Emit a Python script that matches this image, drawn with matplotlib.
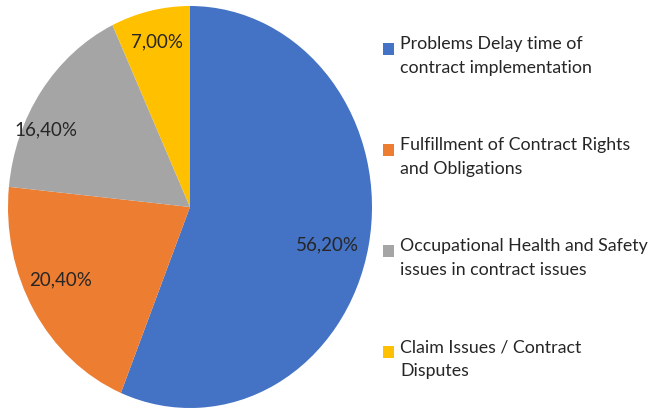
import matplotlib.pyplot as plt
import matplotlib.patches as mpatches
from matplotlib.legend_handler import HandlerPatch
import numpy as np

# -------------------------------------------------
# DATA
# -------------------------------------------------
categories = [
    "Problems Delay time of\ncontract implementation",
    "Fulfillment of Contract Rights\nand Obligations",
    "Occupational Health and Safety\nissues in contract issues",
    "Claim Issues / Contract\nDisputes",
]
shares = [56.20, 20.40, 16.40, 7.00]
pct_labels = ["56,20%", "20,40%", "16,40%", "7,00%"]
colors = ["#4472C4", "#ED7D31", "#A5A5A5", "#FFC000"]

# label placement (radius, angle nudge in degrees), "best fit" style
label_radius = [0.78, 0.80, 0.88, 0.84]
label_nudge = [-3, -4, 9.6, 0]

plt.rcParams["font.family"] = ["Lato", "DejaVu Sans"]

W, H = 654, 409
fig = plt.figure(figsize=(W / 100, H / 100), dpi=100)

# pie area is slightly taller than wide in the reference
ax = fig.add_axes([8 / W, 1 / H, 364 / W, 402 / H])
wedges, _ = ax.pie(shares, colors=colors, startangle=90, counterclock=False,
                   radius=1.0, wedgeprops=dict(linewidth=0))
ax.set_aspect("auto")
ax.set_xlim(-1, 1)
ax.set_ylim(-1, 1)

for w, lab, r, d in zip(wedges, pct_labels, label_radius, label_nudge):
    ang = np.deg2rad((w.theta1 + w.theta2) / 2 + d)
    ax.text(r * np.cos(ang), r * np.sin(ang), lab, ha="center", va="center",
            fontsize=13.5, color="#262626")


# square legend marker lifted to the first line of a two-line label
def top_square(legend, orig_handle, xdescent, ydescent, width, height, fontsize):
    return mpatches.Rectangle((-xdescent, -ydescent + 0.42 * fontsize), width, height)


handles = [mpatches.Patch(facecolor=c, edgecolor="none") for c in colors]
leg = fig.legend(handles, categories, loc="upper left",
                 bbox_to_anchor=(376 / W, 1 - 29 / H), frameon=False,
                 fontsize=12.8, handlelength=0.62, handleheight=0.62,
                 handletextpad=0.35, labelspacing=3.45, borderaxespad=0,
                 handler_map={mpatches.Patch: HandlerPatch(patch_func=top_square)})
for t in leg.get_texts():
    t.set_color("#262626")
    t.set_linespacing(1.6)

fig.savefig("out.png", dpi=100)
